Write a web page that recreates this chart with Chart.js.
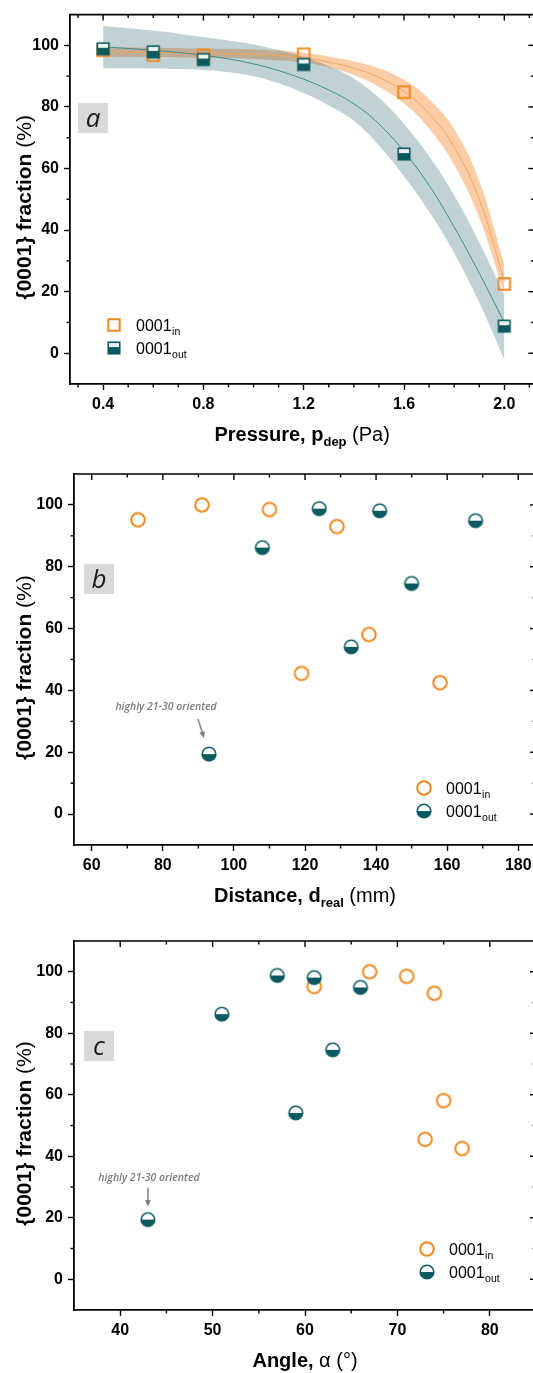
<!DOCTYPE html>
<html>
<head>
<meta charset="utf-8">
<title>{0001} fraction</title>
<script src="https://cdn.jsdelivr.net/npm/chart.js@4.4.1/dist/chart.umd.min.js"></script>
<style>
  html, body { margin: 0; padding: 0; background: #fff; overflow: hidden; }
  body { width: 533px; height: 1373px; position: relative; }
  canvas { position: absolute; left: 0; }
</style>
</head>
<body>
<canvas id="chartA" width="545" height="455" style="top:0"></canvas>
<canvas id="chartB" width="545" height="466" style="top:455px"></canvas>
<canvas id="chartC" width="545" height="452" style="top:921px"></canvas>
<script>
// (a) fraction vs deposition pressure
const pressure = [0.4, 0.6, 0.8, 1.2, 1.6, 2.0];
const inByPressure = [98.4, 96.8, 96.8, 97.1, 84.8, 22.5];
const outByPressure = [98.9, 97.9, 95.4, 93.8, 64.7, 8.8];

// fitted curves + confidence bands, every 0.1 Pa
const fitPressure = [0.4, 0.5, 0.6, 0.7, 0.8, 0.9, 1.0, 1.1, 1.2, 1.3, 1.4, 1.5, 1.6, 1.7, 1.8, 1.9, 2.0];
const fitIn    = [97.8, 97.8, 97.7, 97.6, 97.5, 97.3, 97.1, 96.7, 96.0, 94.6, 92.6, 89.6, 85.0, 77.8, 67.0, 50.0, 23.5];
const fitInHi  = [99.3, 99.3, 99.2, 99.1, 99.0, 98.9, 98.7, 98.3, 97.6, 96.4, 94.8, 92.6, 88.8, 82.6, 72.8, 56.0, 28.9];
const fitInLo  = [96.3, 96.3, 96.2, 96.1, 96.0, 95.8, 95.5, 95.1, 94.4, 92.8, 90.4, 86.6, 81.2, 73.0, 61.2, 44.0, 19.3];
const fitOut   = [99.5, 99.0, 98.4, 97.7, 96.8, 95.6, 94.0, 91.8, 89.0, 85.5, 81.0, 74.5, 65.5, 54.5, 41.0, 26.0, 10.0];
const fitOutHi = [106.3, 105.6, 104.8, 103.8, 102.7, 101.6, 100.3, 98.5, 96.3, 93.2, 89.2, 83.0, 74.5, 64.0, 51.3, 36.0, 19.0];
const fitOutLo = [92.6, 92.6, 92.5, 92.3, 92.0, 91.3, 90.0, 87.7, 84.5, 80.5, 75.5, 67.5, 57.5, 46.0, 32.5, 16.5, -2.0];

// (b), (c) same samples vs real distance and angle
const fracIn   = [95.2, 100, 98.5, 45.5, 93.0, 58.1, 42.5];
const distIn   = [73, 91, 110, 119, 129, 138, 158];
const angleIn  = [61, 67, 71, 73, 74, 75, 77];
const fracOut  = [19.4, 86.2, 98.8, 54.1, 98.1, 74.6, 94.9];
const distOut  = [93, 108, 124, 133, 141, 150, 168];
const angleOut = [43, 51, 57, 59, 61, 63, 66];

// ticks
const yTicks = [0, 20, 40, 60, 80, 100];
const yMinor = [10, 30, 50, 70, 90];
const pTicks = [0.4, 0.8, 1.2, 1.6, 2.0];
const pMinor = [0.3, 0.5, 0.6, 0.7, 0.9, 1.0, 1.1, 1.3, 1.4, 1.5, 1.7, 1.8, 1.9, 2.1];
const dTicks = [60, 80, 100, 120, 140, 160, 180];
const dMinor = [70, 90, 110, 130, 150, 170];
const aTicks = [40, 50, 60, 70, 80];
const aMinor = [45, 55, 65, 75];

const ORANGE = '#ef8a22';
const TEAL = '#0b5a60';
const FONT = '"Liberation Sans", Arial, sans-serif';

const pts = (xs, ys) => xs.map((x, i) => ({ x: x, y: ys[i] }));

// marker images
function marker(kind, half) {
  const c = document.createElement('canvas');
  const s = kind === 'sq' ? 16 : 18;
  c.width = s; c.height = s;
  const g = c.getContext('2d');
  const m = s / 2;
  if (kind === 'sq') {
    const h = 11.5, o = m - h / 2;
    if (half) {
      g.fillStyle = '#eef2f2';
      g.fillRect(o, o, h, h * 0.42);
      g.fillStyle = TEAL;
      g.fillRect(o, o + h * 0.42, h, h * 0.58);
      g.strokeStyle = TEAL; g.lineWidth = 1.6;
    } else {
      g.strokeStyle = ORANGE; g.lineWidth = 2;
    }
    g.strokeRect(o, o, h, h);
  } else {
    const r = 6.8;
    if (half) {
      g.fillStyle = '#fff';
      g.beginPath(); g.arc(m, m, r, Math.PI, 2 * Math.PI); g.fill();
      g.fillStyle = TEAL;
      g.beginPath(); g.arc(m, m, r, 0, Math.PI); g.fill();
      g.strokeStyle = TEAL; g.lineWidth = 1.6;
    } else {
      g.strokeStyle = ORANGE; g.lineWidth = 2;
    }
    g.beginPath(); g.arc(m, m, r, 0, 2 * Math.PI); g.stroke();
  }
  return c;
}
const sqIn = marker('sq', false), sqOut = marker('sq', true);
const ciIn = marker('ci', false), ciOut = marker('ci', true);

function richText(ctx, segs, x, y) {
  let total = 0;
  segs.forEach(s => {
    ctx.font = (s.it ? 'italic ' : '') + (s.b ? 'bold ' : '') + s.size + 'px ' + FONT;
    s.w = ctx.measureText(s.t).width;
    total += s.w;
  });
  let cx = x - total / 2;
  segs.forEach(s => {
    ctx.font = (s.it ? 'italic ' : '') + (s.b ? 'bold ' : '') + s.size + 'px ' + FONT;
    ctx.fillText(s.t, cx, y + (s.dy || 0));
    cx += s.w;
  });
}

function arrow(ctx, x1, y1, x2, y2) {
  const a = Math.atan2(y2 - y1, x2 - x1);
  ctx.beginPath();
  ctx.moveTo(x1, y1);
  ctx.lineTo(x2 - 5 * Math.cos(a), y2 - 5 * Math.sin(a));
  ctx.stroke();
  ctx.beginPath();
  ctx.moveTo(x2, y2);
  ctx.lineTo(x2 - 7 * Math.cos(a - 0.42), y2 - 7 * Math.sin(a - 0.42));
  ctx.lineTo(x2 - 7 * Math.cos(a + 0.42), y2 - 7 * Math.sin(a + 0.42));
  ctx.closePath();
  ctx.fill();
}

// frame, minor ticks, legend, labels, titles
function deco(cfg) {
  return {
    id: 'deco',
    afterDraw(chart) {
      const ctx = chart.ctx, a = chart.chartArea;
      const x = chart.scales.x, y = chart.scales.y;
      ctx.save();
      ctx.strokeStyle = '#000';
      ctx.lineWidth = 1.6;
      ctx.beginPath();
      ctx.moveTo(a.left, a.top); ctx.lineTo(a.right, a.top); ctx.lineTo(a.right, a.bottom);
      ctx.stroke();
      ctx.lineWidth = 1.4;
      const tk = (x1, y1, x2, y2) => { ctx.beginPath(); ctx.moveTo(x1, y1); ctx.lineTo(x2, y2); ctx.stroke(); };
      cfg.xMajor.forEach(v => { const p = x.getPixelForValue(v); tk(p, a.top, p, a.top + 6); });
      cfg.xMinor.forEach(v => {
        const p = x.getPixelForValue(v);
        tk(p, a.bottom, p, a.bottom + 3.5); tk(p, a.top, p, a.top + 3.5);
      });
      yTicks.forEach(v => { const p = y.getPixelForValue(v); tk(a.right, p, a.right - 6, p); });
      yMinor.forEach(v => {
        const p = y.getPixelForValue(v);
        tk(a.left, p, a.left - 3.5, p); tk(a.right, p, a.right - 3.5, p);
      });

      // panel letter
      const bx = cfg.box;
      ctx.fillStyle = '#d9d9d9';
      ctx.fillRect(bx.x, bx.y, 30, 30);
      ctx.fillStyle = '#1a1a1a';
      ctx.font = 'italic 26px "Open Sans", sans-serif';
      ctx.textAlign = 'center';
      ctx.textBaseline = 'alphabetic';
      ctx.fillText(cfg.letter, bx.x + 15, bx.y + 24);

      // legend
      ctx.textAlign = 'left';
      cfg.legend.forEach(e => {
        ctx.drawImage(e.img, e.x - e.img.width / 2, e.y - e.img.height / 2);
        ctx.fillStyle = '#000';
        ctx.font = '16px ' + FONT;
        ctx.fillText('0001', e.x + 22, e.y + 6);
        const w = ctx.measureText('0001').width;
        ctx.font = '10.5px ' + FONT;
        ctx.fillText(e.sub, e.x + 22 + w + 0.5, e.y + 10);
      });

      // annotation
      if (cfg.note) {
        const n = cfg.note;
        const px = x.getPixelForValue(n.at[0]), py = y.getPixelForValue(n.at[1]);
        ctx.fillStyle = '#7a7a7a';
        ctx.strokeStyle = '#8c8c8c';
        ctx.lineWidth = 1.6;
        ctx.textAlign = 'center';
        ctx.font = 'italic 600 10.5px "Open Sans", sans-serif';
        ctx.fillText('highly 21-30 oriented', px + n.text[0], py + n.text[1] + 4);
        arrow(ctx, px + n.from[0], py + n.from[1], px + n.to[0], py + n.to[1]);
      }

      // axis titles
      ctx.fillStyle = '#000';
      ctx.textAlign = 'left';
      richText(ctx, cfg.xTitle, (a.left + a.right) / 2, a.bottom + 57);
      ctx.save();
      ctx.translate(23, (a.top + a.bottom) / 2 + 8);
      ctx.rotate(-Math.PI / 2);
      richText(ctx, [
        { t: '{0001} fraction ', b: true, size: 21 },
        { t: '(%)', size: 21 }
      ], 0, 7.5);
      ctx.restore();
      ctx.restore();
    }
  };
}

function axes(xmin, xmax, xMajor, fmt, yW, xH) {
  return {
    x: {
      type: 'linear', min: xmin, max: xmax,
      afterBuildTicks: s => { s.ticks = xMajor.map(v => ({ value: v })); },
      afterFit: s => { s.height = xH; },
      grid: { drawOnChartArea: false, drawTicks: true, tickLength: 6, tickWidth: 1.4, tickColor: '#000' },
      border: { display: true, color: '#000', width: 1.8 },
      ticks: { color: '#000', font: { family: FONT, size: 16, weight: 'bold' }, padding: 5,
               maxRotation: 0, autoSkip: false, callback: v => fmt(v) }
    },
    y: {
      type: 'linear', min: -10, max: 110,
      afterBuildTicks: s => { s.ticks = yTicks.map(v => ({ value: v })); },
      afterFit: s => { s.width = yW; },
      grid: { drawOnChartArea: false, drawTicks: true, tickLength: 6, tickWidth: 1.4, tickColor: '#000' },
      border: { display: true, color: '#000', width: 1.8 },
      ticks: { color: '#000', font: { family: FONT, size: 16, weight: 'bold' }, padding: 5,
               callback: v => String(v) }
    }
  };
}

const common = {
  responsive: false,
  animation: false,
  plugins: { legend: { display: false }, tooltip: { enabled: false } }
};

const line = (data, color, extra) => Object.assign({
  data: data, showLine: true, pointRadius: 0, borderWidth: 0, borderColor: color,
  backgroundColor: color, tension: 0.4, fill: false
}, extra);

// (a)
new Chart(document.getElementById('chartA'), {
  type: 'scatter',
  data: {
    datasets: [
      { data: pts(pressure, outByPressure), pointStyle: sqOut, pointRadius: 7, order: 1 },
      { data: pts(pressure, inByPressure), pointStyle: sqIn, pointRadius: 7, order: 2 },
      line(pts(fitPressure, fitOut), '#3d8a8d', { borderWidth: 1, order: 3 }),
      line(pts(fitPressure, fitIn), '#f4a35a', { borderWidth: 1, order: 4 }),
      line(pts(fitPressure, fitOutHi), 'rgba(26,90,95,0.27)', { fill: '+1', order: 5 }),
      line(pts(fitPressure, fitOutLo), 'rgba(26,90,95,0.27)', { order: 6 }),
      line(pts(fitPressure, fitInHi), 'rgba(245,140,50,0.43)', { fill: '+1', order: 7 }),
      line(pts(fitPressure, fitInLo), 'rgba(245,140,50,0.43)', { order: 8 })
    ]
  },
  options: Object.assign({}, common, {
    layout: { padding: { top: 11, right: 10.6, left: 0, bottom: 0 } },
    scales: axes(0.268, 2.12, pTicks, v => v.toFixed(1), 70, 71)
  }),
  plugins: [deco({
    xMajor: pTicks, xMinor: pMinor, letter: 'a', box: { x: 78, y: 103 },
    legend: [
      { img: sqIn, x: 114, y: 325, sub: 'in' },
      { img: sqOut, x: 114, y: 348, sub: 'out' }
    ],
    xTitle: [
      { t: 'Pressure, p', b: true, size: 20 },
      { t: 'dep', b: true, size: 13, dy: 5 },
      { t: ' (Pa)', size: 20 }
    ]
  })]
});

// (b)
new Chart(document.getElementById('chartB'), {
  type: 'scatter',
  data: {
    datasets: [
      { data: pts(distOut, fracOut), pointStyle: ciOut, pointRadius: 7 },
      { data: pts(distIn, fracIn), pointStyle: ciIn, pointRadius: 7 }
    ]
  },
  options: Object.assign({}, common, {
    layout: { padding: { top: 19, right: 9, left: 0, bottom: 0 } },
    scales: axes(55, 185, dTicks, v => String(v), 74, 76)
  }),
  plugins: [deco({
    xMajor: dTicks, xMinor: dMinor, letter: 'b', box: { x: 84, y: 109 },
    legend: [
      { img: ciIn, x: 424, y: 333, sub: 'in' },
      { img: ciOut, x: 424, y: 356, sub: 'out' }
    ],
    note: { at: [93, 19.4], text: [-43, -48], from: [-11, -35], to: [-5, -16] },
    xTitle: [
      { t: 'Distance, d', b: true, size: 20 },
      { t: 'real', b: true, size: 13, dy: 5 },
      { t: ' (mm)', size: 20 }
    ]
  })]
});

// (c)
new Chart(document.getElementById('chartC'), {
  type: 'scatter',
  data: {
    datasets: [
      { data: pts(angleOut, fracOut), pointStyle: ciOut, pointRadius: 7 },
      { data: pts(angleIn, fracIn), pointStyle: ciIn, pointRadius: 7 }
    ]
  },
  options: Object.assign({}, common, {
    layout: { padding: { top: 20, right: 9, left: 0, bottom: 0 } },
    scales: axes(35, 85, aTicks, v => String(v), 74, 63)
  }),
  plugins: [deco({
    xMajor: aTicks, xMinor: aMinor, letter: 'c', box: { x: 84, y: 110 },
    legend: [
      { img: ciIn, x: 427, y: 328, sub: 'in' },
      { img: ciOut, x: 427, y: 351, sub: 'out' }
    ],
    note: { at: [43, 19.4], text: [1, -42.5], from: [0, -32], to: [0, -13] },
    xTitle: [
      { t: 'Angle, ', b: true, size: 20 },
      { t: '\u03b1', size: 20 },
      { t: ' (\u00b0)', size: 20 }
    ]
  })]
});
</script>
</body>
</html>
